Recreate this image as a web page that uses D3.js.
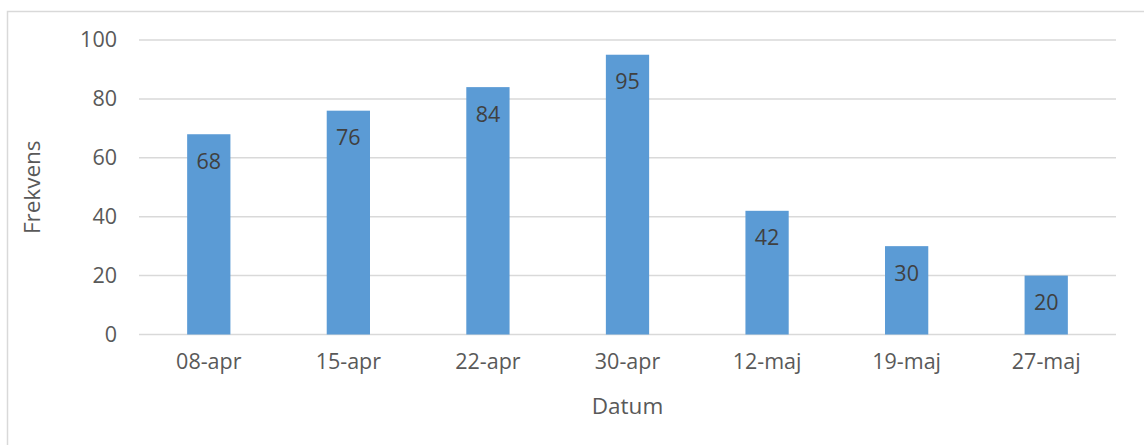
<!DOCTYPE html>
<html>
<head>
<meta charset="utf-8">
<script src="https://cdn.jsdelivr.net/npm/d3@7"></script>
<style>
  html, body { margin: 0; padding: 0; background: #fff; }
  svg { display: block; }
  text { font-family: "Open Sans", "Noto Sans", sans-serif; }
</style>
</head>
<body>
<svg id="chart" width="1144" height="445"></svg>
<script>
// Frequency per date
const categories = ["08-apr", "15-apr", "22-apr", "30-apr", "12-maj", "19-maj", "27-maj"];
const values = [68, 76, 84, 95, 42, 30, 20];
const yTicks = [0, 20, 40, 60, 80, 100];

const svg = d3.select("#chart");
const W = 1144, H = 445;
const margin = { left: 139, right: 28, top: 40, bottom: 110.5 };
const FONT = 21.5;

// outer chart frame
svg.append("rect")
  .attr("x", 7.5).attr("y", 11.5)
  .attr("width", W + 10).attr("height", H + 10)
  .attr("fill", "#fff").attr("stroke", "#d9d9d9").attr("stroke-width", 1.5);

const x = d3.scaleBand()
  .domain(categories)
  .range([margin.left, W - margin.right])
  .paddingInner(0.69)
  .paddingOuter(0.345);

const y = d3.scaleLinear()
  .domain([0, 100])
  .range([H - margin.bottom, margin.top]);

// gridlines
svg.append("g")
  .selectAll("line")
  .data(yTicks)
  .join("line")
  .attr("x1", margin.left).attr("x2", W - margin.right)
  .attr("y1", d => y(d)).attr("y2", d => y(d))
  .attr("stroke", "#d9d9d9").attr("stroke-width", 1.5);

// y axis labels
const yAxis = d3.axisLeft(y).tickValues(yTicks).tickSize(0).tickPadding(22);
svg.append("g")
  .attr("transform", `translate(${margin.left},0)`)
  .call(yAxis)
  .call(g => g.select(".domain").remove())
  .selectAll("text")
  .attr("font-family", "Open Sans, Noto Sans, sans-serif")
  .attr("font-size", FONT)
  .attr("fill", "#595959");

// x axis labels
const xAxis = d3.axisBottom(x).tickSize(0).tickPadding(19);
svg.append("g")
  .attr("transform", `translate(0,${y(0)})`)
  .call(xAxis)
  .call(g => g.select(".domain").remove())
  .selectAll("text")
  .attr("font-family", "Open Sans, Noto Sans, sans-serif")
  .attr("font-size", FONT)
  .attr("fill", "#595959");

// bars
svg.append("g")
  .selectAll("rect")
  .data(categories.map((c, i) => ({ c, v: values[i] })))
  .join("rect")
  .attr("x", d => x(d.c))
  .attr("width", x.bandwidth())
  .attr("y", d => y(d.v))
  .attr("height", d => y(0) - y(d.v))
  .attr("fill", "#5b9bd5");

// value labels inside bars
svg.append("g")
  .selectAll("text")
  .data(categories.map((c, i) => ({ c, v: values[i] })))
  .join("text")
  .attr("x", d => x(d.c) + x.bandwidth() / 2)
  .attr("y", d => y(d.v) + 27)
  .attr("dy", "0.35em")
  .attr("text-anchor", "middle")
  .attr("font-size", FONT)
  .attr("fill", "#404040")
  .text(d => d.v);

// axis titles
svg.append("text")
  .attr("transform", `translate(32,${(y(0) + y(100)) / 2}) rotate(-90)`)
  .attr("text-anchor", "middle")
  .attr("dy", "0.35em")
  .attr("font-size", 22.5)
  .attr("fill", "#595959")
  .text("Frekvens");

svg.append("text")
  .attr("x", (margin.left + W - margin.right) / 2)
  .attr("y", 406)
  .attr("text-anchor", "middle")
  .attr("dy", "0.35em")
  .attr("font-size", 22.5)
  .attr("fill", "#595959")
  .text("Datum");
</script>
</body>
</html>
